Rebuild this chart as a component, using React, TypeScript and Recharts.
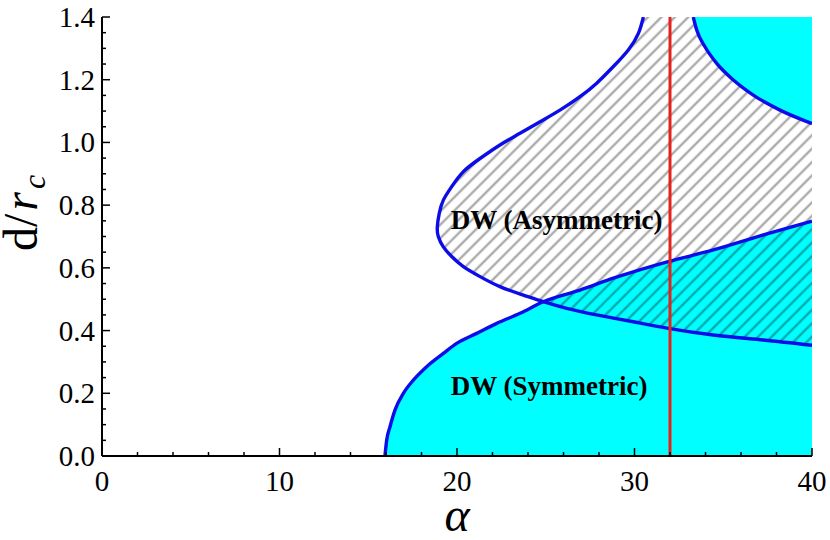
import React from "react";
import {
  ComposedChart,
  XAxis,
  YAxis,
  Area,
  Line,
  ReferenceLine,
  ReferenceDot,
  Label,
} from "recharts";

// symmetric domain wall boundary (lower cyan region)
const symAlpha = [15.94, 16.04, 16.23, 16.51, 16.98, 17.54, 18.29, 19.23, 19.98, 21.11, 22.24, 23.55, 24.86, 26.93, 28.81, 31.9, 34.44, 37.26, 40];
const symD = [0, 0.051, 0.094, 0.147, 0.2, 0.242, 0.285, 0.327, 0.359, 0.391, 0.423, 0.455, 0.492, 0.529, 0.567, 0.62, 0.657, 0.705, 0.749];

// asymmetric boundary, traced from the top edge round the nose to the right edge
const asymAlpha = [30.5, 30.22, 29.65, 28.81, 27.87, 26.93, 25.8, 24.68, 23.55, 22.42, 21.3, 20.36, 19.7, 19.23, 19.0, 18.89, 18.95, 19.23, 19.7, 20.36, 21.3, 22.42, 23.74, 24.86, 26.18, 27.87, 29.93, 31.9, 34.44, 37.26, 40];
const asymD = [1.4, 1.348, 1.295, 1.242, 1.189, 1.146, 1.103, 1.066, 1.029, 0.992, 0.949, 0.907, 0.859, 0.816, 0.774, 0.731, 0.699, 0.667, 0.636, 0.604, 0.572, 0.54, 0.513, 0.492, 0.471, 0.45, 0.428, 0.407, 0.386, 0.37, 0.353];

// upper right cyan region boundary
const upperAlpha = [33.31, 33.5, 33.97, 34.63, 35.57, 36.69, 38.2, 40];
const upperD = [1.4, 1.359, 1.305, 1.252, 1.199, 1.151, 1.103, 1.06];

const markerAlpha = 32;

const xTicks = [0, 2, 4, 6, 8, 10, 12, 14, 16, 18, 20, 22, 24, 26, 28, 30, 32, 34, 36, 38, 40];
const xLabels = [0, 10, 20, 30, 40];
const yTicks = [0, 0.05, 0.1, 0.15, 0.2, 0.25, 0.3, 0.35, 0.4, 0.45, 0.5, 0.55, 0.6, 0.65, 0.7, 0.75, 0.8, 0.85, 0.9, 0.95, 1.0, 1.05, 1.1, 1.15, 1.2, 1.25, 1.3, 1.35, 1.4];
const yLabels = ["0.0", "0.2", "0.4", "0.6", "0.8", "1.0", "1.2", "1.4"];

const zip = (a: number[], d: number[]) => a.map((v, i) => ({ a: v, d: d[i] }));
const symData = zip(symAlpha, symD);
const asymData = zip(asymAlpha, asymD);
const upperData = zip(upperAlpha, upperD);

const FONT = "Liberation Serif, Times New Roman, serif";
const BLUE = "#0c0ce8";
const CYAN = "#00ffff";

const isXMajor = (v: number) => xLabels.includes(v);
const isYMajor = (v: number) => yLabels.includes(v.toFixed(1)) && Math.abs(v * 5 - Math.round(v * 5)) < 1e-6;

const BottomTick = (props: any) => {
  const { x, y, payload } = props;
  const major = isXMajor(payload.value);
  return (
    <g>
      <line x1={x} x2={x} y1={y} y2={y - (major ? 8 : 4)} stroke="#000" strokeWidth={1.5} />
      {major && (
        <text x={x} y={y + 35} textAnchor="middle" fontSize={29} fontFamily={FONT} fill="#000">
          {payload.value}
        </text>
      )}
    </g>
  );
};

const TopTick = (props: any) => {
  const { x, y, payload } = props;
  const major = isXMajor(payload.value);
  return <line x1={x} x2={x} y1={y} y2={y + (major ? 8 : 4)} stroke="#000" strokeWidth={1.5} />;
};

const LeftTick = (props: any) => {
  const { x, y, payload } = props;
  const major = isYMajor(payload.value);
  return (
    <g>
      <line x1={x} x2={x + (major ? 8 : 4)} y1={y} y2={y} stroke="#000" strokeWidth={1.5} />
      {major && (
        <text x={x - 7} y={y + 10} textAnchor="end" fontSize={29} fontFamily={FONT} fill="#000">
          {payload.value.toFixed(1)}
        </text>
      )}
    </g>
  );
};

const RightTick = (props: any) => {
  const { x, y, payload } = props;
  const major = isYMajor(payload.value);
  return <line x1={x} x2={x - (major ? 8 : 4)} y1={y} y2={y} stroke="#000" strokeWidth={1.5} />;
};

const regionLabel = (text: string) => (props: any) => {
  const vb = props.viewBox || {};
  return (
    <text x={vb.x} y={vb.y} fontSize={27} fontWeight="bold" fontFamily={FONT} fill="#000">
      {text}
    </text>
  );
};

const AlphaTitle = () => (
  <text x={457} y={531} textAnchor="middle" fontSize={48} fontStyle="italic" fontFamily={FONT} fill="#000">
    α
  </text>
);

const DTitle = () => (
  <text
    x={37}
    y={213}
    transform="rotate(-90 37 213)"
    textAnchor="middle"
    fontSize={48}
    fontFamily={FONT}
    fill="#000"
  >
    d/
    <tspan fontStyle="italic" dx={3}>r</tspan>
    <tspan fontStyle="italic" fontSize={32} dy={8} dx={3}>c</tspan>
  </text>
);

export default function App() {
  return (
    <div style={{ position: "absolute", left: 0, top: 0, width: 830, height: 540, background: "#fff" }}>
      <ComposedChart width={830} height={540} margin={{ top: 17, right: 18, bottom: 0, left: 0 }}>
        <defs>
          <pattern id="hatch" width={9.5} height={9.5} patternUnits="userSpaceOnUse" patternTransform="rotate(45)">
            <line x1={4.75} y1={-1} x2={4.75} y2={10.5} stroke="#000" strokeOpacity={0.33} strokeWidth={2.4} />
          </pattern>
        </defs>
        <XAxis
          dataKey="a"
          type="number"
          domain={[0, 40]}
          ticks={xTicks}
          interval={0}
          height={84}
          tickSize={0}
          tickMargin={0}
          tickLine={false}
          axisLine={{ stroke: "#000", strokeWidth: 2 }}
          tick={(p: any) => <BottomTick {...p} />}
          allowDataOverflow
        >
          <Label content={() => <AlphaTitle />} />
        </XAxis>
        <XAxis
          xAxisId="top"
          orientation="top"
          dataKey="a"
          type="number"
          domain={[0, 40]}
          ticks={xTicks}
          interval={0}
          height={0}
          tickSize={0}
          tickMargin={0}
          tickLine={false}
          axisLine={{ stroke: "#000", strokeWidth: 2 }}
          tick={(p: any) => <TopTick {...p} />}
          allowDataOverflow
        />
        <YAxis
          dataKey="d"
          type="number"
          domain={[0, 1.4]}
          ticks={yTicks}
          interval={0}
          width={102}
          tickSize={0}
          tickMargin={0}
          tickLine={false}
          axisLine={{ stroke: "#000", strokeWidth: 2 }}
          tick={(p: any) => <LeftTick {...p} />}
          allowDataOverflow
        >
          <Label content={() => <DTitle />} />
        </YAxis>
        <YAxis
          yAxisId="right"
          orientation="right"
          dataKey="d"
          type="number"
          domain={[0, 1.4]}
          ticks={yTicks}
          interval={0}
          width={0}
          tickSize={0}
          tickMargin={0}
          tickLine={false}
          axisLine={{ stroke: "#000", strokeWidth: 2 }}
          tick={(p: any) => <RightTick {...p} />}
          allowDataOverflow
        />

        <Area
          data={symData}
          dataKey="d"
          type="monotone"
          baseValue={0}
          fill={CYAN}
          fillOpacity={1}
          stroke="none"
          isAnimationActive={false}
        />
        <Area
          data={asymData}
          dataKey="d"
          type="natural"
          baseValue={1.4}
          fill="url(#hatch)"
          fillOpacity={1}
          stroke="none"
          isAnimationActive={false}
        />
        <Area
          data={upperData}
          dataKey="d"
          type="monotone"
          baseValue={1.4}
          fill={CYAN}
          fillOpacity={1}
          stroke="none"
          isAnimationActive={false}
        />

        <Line data={symData} dataKey="d" type="monotone" stroke={BLUE} strokeWidth={3.4} dot={false} activeDot={false} isAnimationActive={false} />
        <Line data={asymData} dataKey="d" type="natural" stroke={BLUE} strokeWidth={3.4} dot={false} activeDot={false} isAnimationActive={false} />
        <Line data={upperData} dataKey="d" type="monotone" stroke={BLUE} strokeWidth={3.4} dot={false} activeDot={false} isAnimationActive={false} />

        <ReferenceLine x={markerAlpha} stroke="#e8201c" strokeWidth={3} />

        <ReferenceDot x={19.65} y={0.724} r={0} fill="none" stroke="none" label={{ content: regionLabel("DW (Asymmetric)") }} />
        <ReferenceDot x={19.65} y={0.195} r={0} fill="none" stroke="none" label={{ content: regionLabel("DW (Symmetric)") }} />
      </ComposedChart>
    </div>
  );
}
